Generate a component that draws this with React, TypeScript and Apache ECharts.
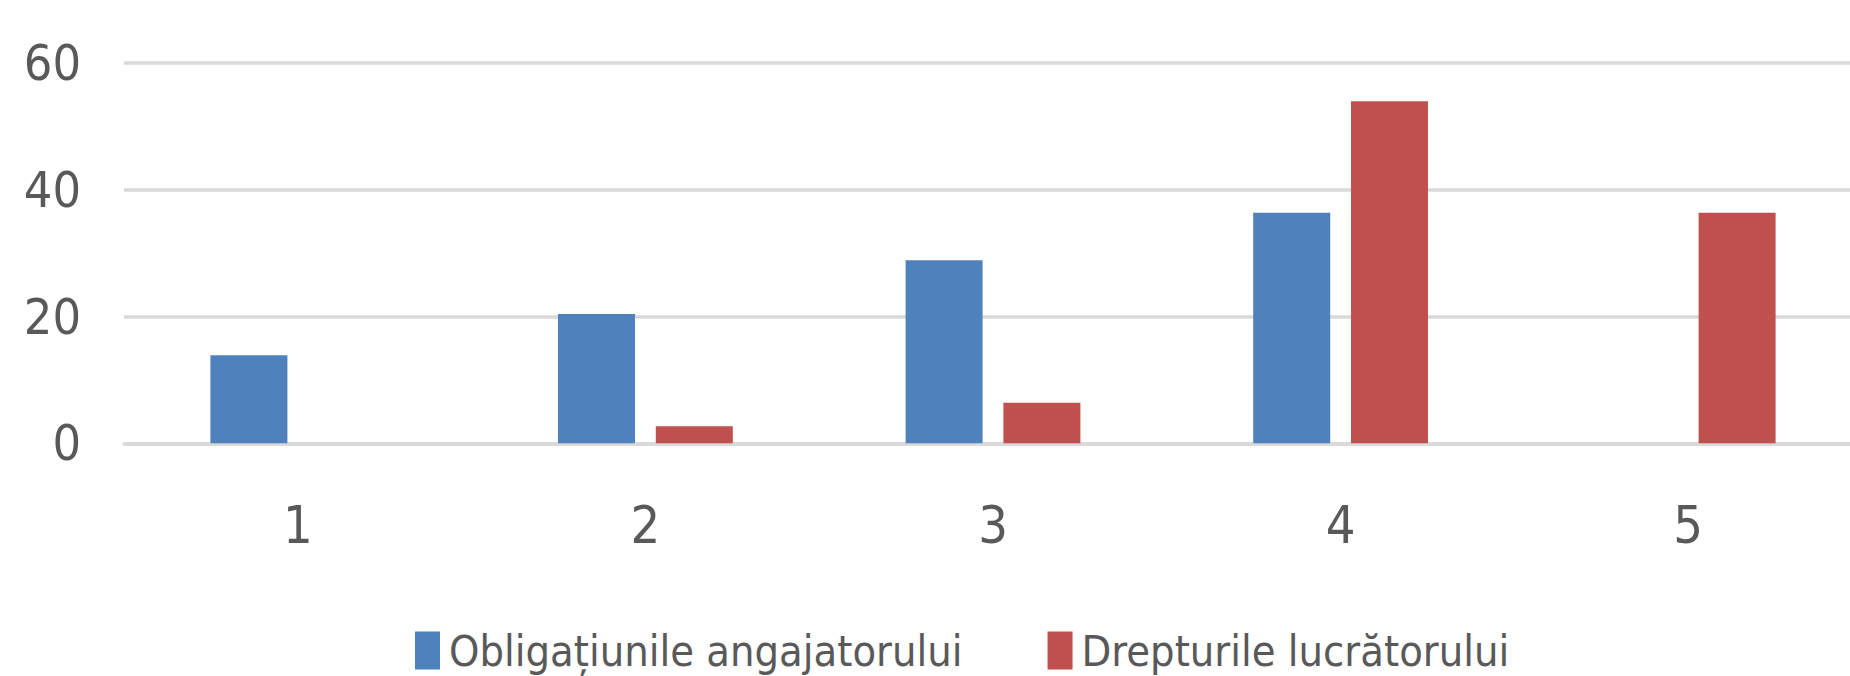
import React, { useEffect, useRef } from "react";
import * as echarts from "echarts";

const categories = ["1", "2", "3", "4", "5"];
const seriesNames = ["Obligațiunile angajatorului", "Drepturile lucrătorului"];
const obligatiuni = [13.9, 20.4, 28.9, 36.4, 0];
const drepturi = [0, 2.7, 6.4, 54.0, 36.4];
const yTicks = [0, 20, 40, 60];

const FONT = "'DejaVu Sans Condensed', 'Liberation Sans Narrow', Roboto, sans-serif";

export default function App() {
  const ref = useRef<HTMLDivElement>(null);
  useEffect(() => {
    if (!ref.current) return;
    const chart = echarts.init(ref.current, undefined, { renderer: "svg" });
    chart.setOption({
      animation: false,
      backgroundColor: "#ffffff",
      grid: { left: 124, right: 8, top: 63.2, bottom: 232.7, containLabel: false },
      legend: {
        data: seriesNames,
        left: 415,
        top: 629,
        itemWidth: 25,
        itemHeight: 38,
        itemGap: 85,
        icon: "rect",
        textStyle: { fontFamily: FONT, fontSize: 43, color: "#595959", padding: [0, 0, 0, 4] },
        padding: 0,
      },
      xAxis: {
        type: "category",
        data: categories,
        axisLine: { show: true, lineStyle: { color: "#d9d9d9", width: 3.5 } },
        axisTick: { show: false },
        axisLabel: { fontFamily: FONT, fontSize: 52, color: "#595959", margin: 56 },
      },
      yAxis: {
        type: "value",
        min: yTicks[0],
        max: yTicks[yTicks.length - 1],
        interval: 20,
        axisLine: { show: false },
        axisTick: { show: false },
        splitLine: { lineStyle: { color: "#d9d9d9", width: 3.5 } },
        axisLabel: { fontFamily: FONT, fontSize: 50, color: "#595959", margin: 43 },
      },
      series: [
        {
          name: seriesNames[0],
          type: "bar",
          data: obligatiuni,
          barWidth: 77,
          barGap: "27%",
          itemStyle: { color: "#4f81bd" },
        },
        {
          name: seriesNames[1],
          type: "bar",
          data: drepturi,
          barWidth: 77,
          barGap: "27%",
          itemStyle: { color: "#c0504d" },
        },
      ],
    });
    return () => chart.dispose();
  }, []);
  return (
    <div
      ref={ref}
      style={{ position: "fixed", left: 0, top: 0, width: 1870, height: 676, background: "#fff" }}
    />
  );
}
